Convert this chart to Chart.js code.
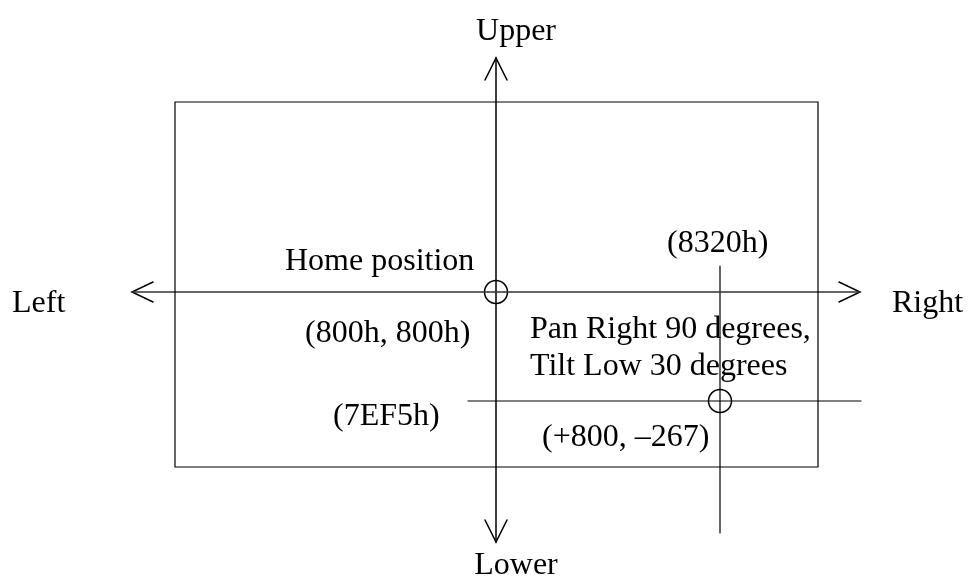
<!DOCTYPE html>
<html>
<head>
<meta charset="utf-8">
<script src="https://cdn.jsdelivr.net/npm/chart.js@4.4.0/dist/chart.umd.min.js"></script>
<style>
  html, body { margin: 0; padding: 0; background: #fff; }
  #wrap { width: 969px; height: 577px; position: relative; }
</style>
</head>
<body>
<div id="wrap"><canvas id="diagram"></canvas></div>
<script>
/* ---------------------------- Diagram data (page units, y grows down) ---------------------------- */

const frameCorners = [[175,102],[818,102],[818,467],[175,467],[175,102]]
const panAxis = [[132,292],[860,292]]
const tiltAxis = [[496,58],[496,542]]
const targetPanLine = [[468,401],[861,401]]
const targetTiltLine = [[720,266],[720,533]]
const positionMarks = [[496,292],[720,401]]

// open arrow heads: wing, tip, wing
const arrowUp = [[485,80],[496,58],[507,80]]
const arrowDown = [[485,520],[496,542],[507,520]]
const arrowLeft = [[153,282],[132,292],[153,302]]
const arrowRight = [[839,282],[860,292],[839,302]]

const labelTexts = ['Upper','Lower','Left','Right','Home position','(800h, 800h)',
    'Pan Right 90 degrees,','Tilt Low 30 degrees','(7EF5h)','(+800, \u2013267)','(8320h)']
const labelX = [516,516,12,892,285,305,530,530,333,542,667]
const labelY = [40,574,312,312,270,342,338,375,425,446,252]
const labelAlign = ['center','center','left','left','left','left','left','left','left','left','left']

/* ---------------------------- Helpers ---------------------------- */

const toPoints = arr => arr.map(p => ({x: p[0], y: p[1]}))

const segment = (arr, width, color) => ({
    data: toPoints(arr),
    showLine: true,
    borderColor: color || '#000',
    borderWidth: width || 1.5,
    pointRadius: 0,
    fill: false,
    tension: 0
})

const textPlugin = {
    id: 'diagramText',
    afterDatasetsDraw(chart){
        const ctx = chart.ctx
        const xs = chart.scales.x
        const ys = chart.scales.y
        ctx.save()
        ctx.fillStyle = '#000'
        ctx.font = '32px "Liberation Serif", "Times New Roman", serif'
        ctx.textBaseline = 'alphabetic'
        labelTexts.forEach((t,i)=>{
            ctx.textAlign = labelAlign[i]
            ctx.fillText(t, xs.getPixelForValue(labelX[i]), ys.getPixelForValue(labelY[i]))
        })
        ctx.restore()
    }
}

/* ---------------------------- Chart ---------------------------- */

const config = {
    type: 'scatter',
    data: {
        datasets: [
            segment(frameCorners, 1.2),
            segment(panAxis, 1.5, '#333'),
            segment(tiltAxis, 1.5),
            segment(targetPanLine, 1.2),
            segment(targetTiltLine, 1.2),
            segment(arrowUp, 1.5),
            segment(arrowDown, 1.5),
            segment(arrowLeft, 1.5),
            segment(arrowRight, 1.5),
            {
                data: toPoints(positionMarks),
                showLine: false,
                pointStyle: 'circle',
                pointRadius: 11.5,
                pointBorderWidth: 1.5,
                pointBorderColor: '#000',
                pointBackgroundColor: 'rgba(0,0,0,0)'
            }
        ]
    },
    options: {
        responsive: true,
        maintainAspectRatio: false,
        animation: false,
        devicePixelRatio: 1,
        layout: { padding: 0, autoPadding: false },
        clip: false,
        plugins: {
            legend: { display: false },
            tooltip: { enabled: false }
        },
        scales: {
            x: { type: 'linear', min: 0, max: 969, display: false, offset: false },
            y: { type: 'linear', min: 0, max: 577, reverse: true, display: false, offset: false }
        },
        elements: { line: { borderCapStyle: 'round', borderJoinStyle: 'miter' } }
    },
    plugins: [textPlugin]
}

var diagram = new Chart(document.getElementById('diagram'), config)
</script>
</body>
</html>
